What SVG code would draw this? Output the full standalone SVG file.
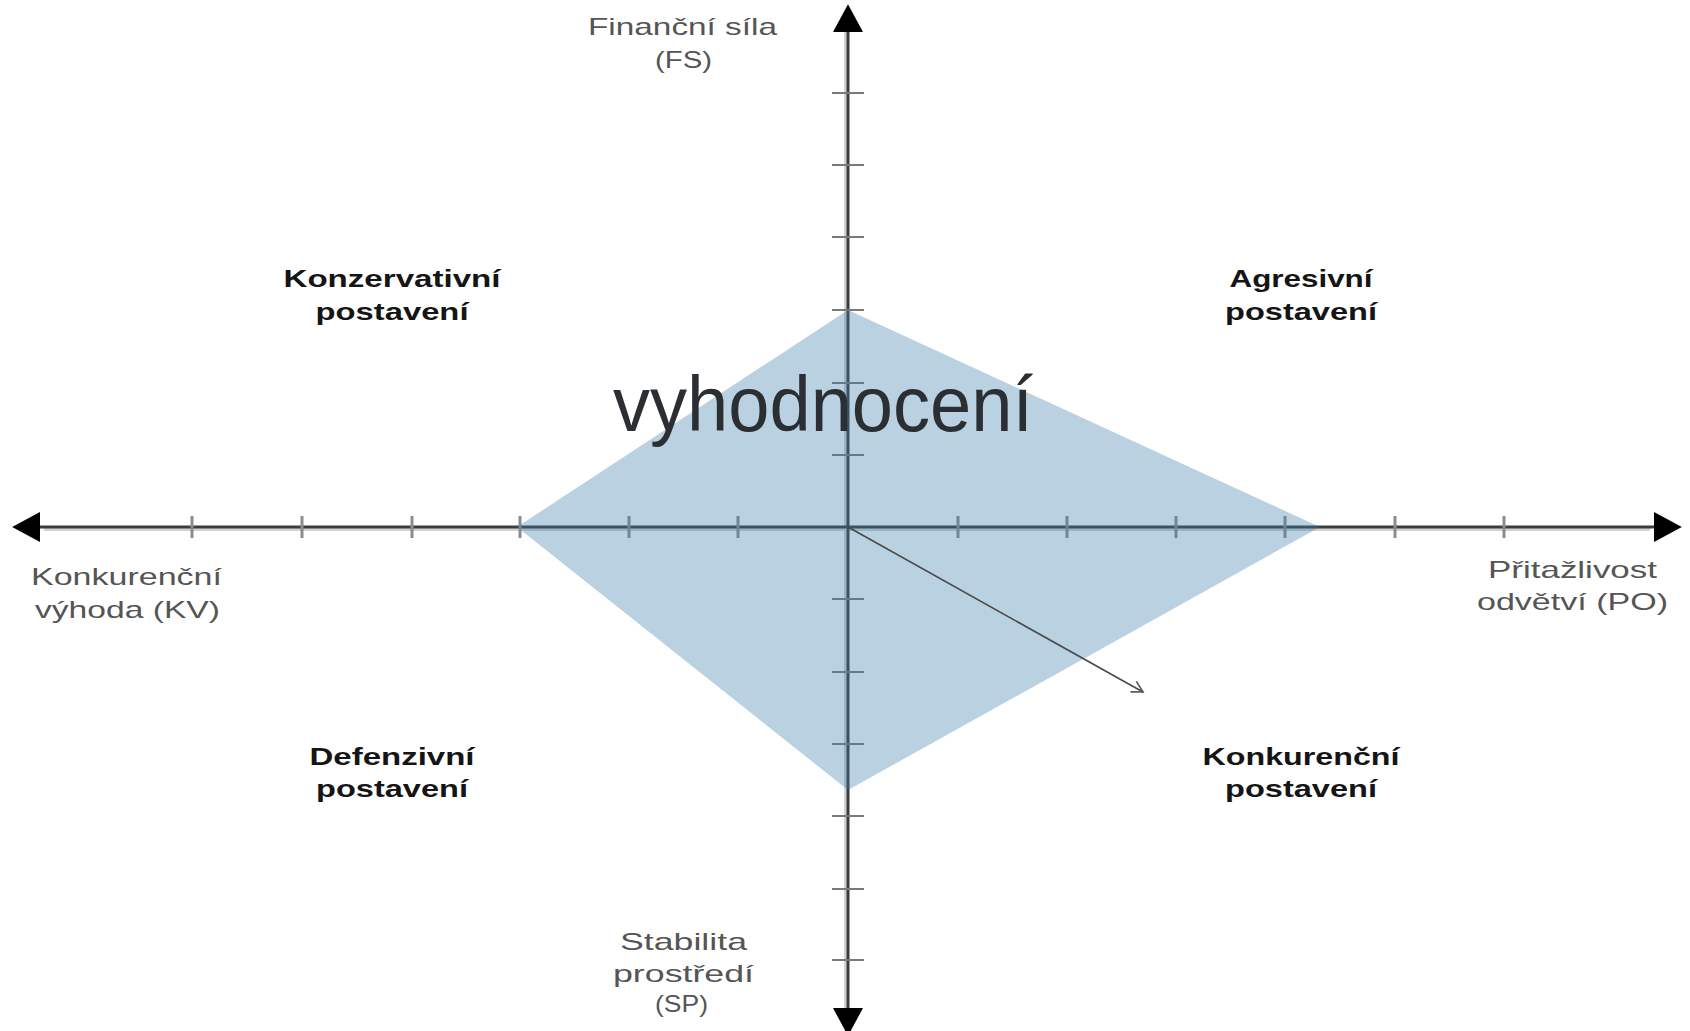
<svg xmlns="http://www.w3.org/2000/svg" width="1690" height="1031" viewBox="0 0 1690 1031">
  <defs>
    <marker id="axisHead" markerUnits="userSpaceOnUse" markerWidth="30" markerHeight="30" viewBox="0 0 26 28" refX="0" refY="14" orient="auto-start-reverse">
      <path d="M0,0 L26,14 L0,28 Z" fill="#000"/>
    </marker>
    <marker id="openHead" markerUnits="userSpaceOnUse" markerWidth="14" markerHeight="14" viewBox="-1 -7 14 14" refX="11" refY="0" orient="auto">
      <path d="M0,-6 L11,0 L0,6" fill="none" stroke="#555" stroke-width="1.6"/>
    </marker>
    <style>
      .halo { stroke: #d2d2d2; stroke-width: 3; fill: none; }
      .axis { stroke: #3c3c3c; stroke-width: 3; fill: none; }
      .xtick { stroke: #8c8c8c; stroke-width: 3; }
      .ytick { stroke: #7a7a7a; stroke-width: 2; }
      .lbl { font-family: "Liberation Sans", Arial, sans-serif; font-size: 24px; fill: #555; }
      .quad { font-family: "Liberation Sans", Arial, sans-serif; font-size: 24px; font-weight: bold; fill: #151515; text-anchor: middle; }
      .title { font-family: "Liberation Sans", Arial, sans-serif; font-size: 77px; fill: #2b2f33; }
    </style>
  </defs>

  <rect width="1690" height="1031" fill="#fff"/>

  <!-- axes, ticks and the resulting vector -->
  <g id="connectors">
    <line class="halo" x1="845.5" y1="30" x2="845.5" y2="1010"/>
    <line class="halo" x1="44" y1="529.5" x2="1650" y2="529.5"/>
    <line id="axis-y" class="axis" x1="848" y1="1008" x2="848" y2="32" marker-start="url(#axisHead)" marker-end="url(#axisHead)"/>
    <line id="axis-x" class="axis" x1="40" y1="527" x2="1654" y2="527" marker-start="url(#axisHead)" marker-end="url(#axisHead)"/>

    <g id="ticks-x">
      <line class="xtick" x1="192" y1="516" x2="192" y2="538" stroke="#a8a8a8"/>
      <line class="xtick" x1="302" y1="516" x2="302" y2="538"/>
      <line class="xtick" x1="412" y1="516" x2="412" y2="538"/>
      <line class="xtick" x1="520" y1="516" x2="520" y2="538"/>
      <line class="xtick" x1="629" y1="516" x2="629" y2="538"/>
      <line class="xtick" x1="738" y1="516" x2="738" y2="538"/>
      <line class="xtick" x1="958" y1="516" x2="958" y2="538"/>
      <line class="xtick" x1="1067" y1="516" x2="1067" y2="538"/>
      <line class="xtick" x1="1176" y1="516" x2="1176" y2="538"/>
      <line class="xtick" x1="1285" y1="516" x2="1285" y2="538"/>
      <line class="xtick" x1="1395" y1="516" x2="1395" y2="538"/>
      <line class="xtick" x1="1504" y1="516" x2="1504" y2="538"/>
    </g>
    <g id="ticks-y">
      <line class="ytick" x1="832" y1="93" x2="864" y2="93" stroke="#b0b0b0" stroke-width="3"/>
      <line class="ytick" x1="832" y1="165" x2="864" y2="165"/>
      <line class="ytick" x1="832" y1="237" x2="864" y2="237"/>
      <line class="ytick" x1="832" y1="310" x2="864" y2="310" stroke="#a0a0a0" stroke-width="3"/>
      <line class="ytick" x1="832" y1="383" x2="864" y2="383"/>
      <line class="ytick" x1="832" y1="455" x2="864" y2="455"/>
      <line class="ytick" x1="832" y1="599" x2="864" y2="599"/>
      <line class="ytick" x1="832" y1="672" x2="864" y2="672"/>
      <line class="ytick" x1="832" y1="744" x2="864" y2="744"/>
      <line class="ytick" x1="832" y1="816" x2="864" y2="816"/>
      <line class="ytick" x1="832" y1="889" x2="864" y2="889"/>
      <line class="ytick" x1="832" y1="960" x2="864" y2="960"/>
    </g>
  </g>

  <!-- evaluated area (translucent over the axes) -->
  <g id="diamond">
    <polygon points="848,310 1320,527 848,790 517,527" fill="#367ba9" fill-opacity="0.35"/>
  </g>

  <g id="vector">
    <line x1="848" y1="527" x2="1143" y2="692" stroke="#4a4a4a" stroke-width="1.6" marker-end="url(#openHead)"/>
  </g>

  <!-- axis labels -->
  <g id="label-fs">
    <text class="lbl" x="588" y="35" textLength="189" lengthAdjust="spacingAndGlyphs">Finanční síla</text>
    <text class="lbl" x="655" y="68" textLength="57" lengthAdjust="spacingAndGlyphs">(FS)</text>
  </g>
  <g id="label-kv">
    <text class="lbl" x="31" y="585" textLength="191" lengthAdjust="spacingAndGlyphs">Konkurenční</text>
    <text class="lbl" x="35" y="618" textLength="185" lengthAdjust="spacingAndGlyphs">výhoda (KV)</text>
  </g>
  <g id="label-po">
    <text class="lbl" x="1488" y="578" textLength="169" lengthAdjust="spacingAndGlyphs">Přitažlivost</text>
    <text class="lbl" x="1477" y="610" textLength="191" lengthAdjust="spacingAndGlyphs">odvětví (PO)</text>
  </g>
  <g id="label-sp">
    <text class="lbl" x="620" y="950" textLength="127" lengthAdjust="spacingAndGlyphs">Stabilita</text>
    <text class="lbl" x="613" y="982" textLength="141" lengthAdjust="spacingAndGlyphs">prostředí</text>
    <text class="lbl" x="655" y="1012" textLength="53" lengthAdjust="spacingAndGlyphs">(SP)</text>
  </g>

  <!-- quadrant names -->
  <g id="quad-konzervativni">
    <text class="quad" x="392" y="287" textLength="217" lengthAdjust="spacingAndGlyphs">Konzervativní</text>
    <text class="quad" x="392" y="320" textLength="153" lengthAdjust="spacingAndGlyphs">postavení</text>
  </g>
  <g id="quad-agresivni">
    <text class="quad" x="1301" y="287" textLength="143" lengthAdjust="spacingAndGlyphs">Agresivní</text>
    <text class="quad" x="1301" y="320" textLength="152" lengthAdjust="spacingAndGlyphs">postavení</text>
  </g>
  <g id="quad-defenzivni">
    <text class="quad" x="392" y="765" textLength="165" lengthAdjust="spacingAndGlyphs">Defenzivní</text>
    <text class="quad" x="392" y="797" textLength="152" lengthAdjust="spacingAndGlyphs">postavení</text>
  </g>
  <g id="quad-konkurencni">
    <text class="quad" x="1301" y="765" textLength="197" lengthAdjust="spacingAndGlyphs">Konkurenční</text>
    <text class="quad" x="1301" y="797" textLength="152" lengthAdjust="spacingAndGlyphs">postavení</text>
  </g>

  <g id="title">
    <text class="title" x="613" y="431" textLength="420" lengthAdjust="spacingAndGlyphs">vyhodnocení</text>
  </g>
</svg>
